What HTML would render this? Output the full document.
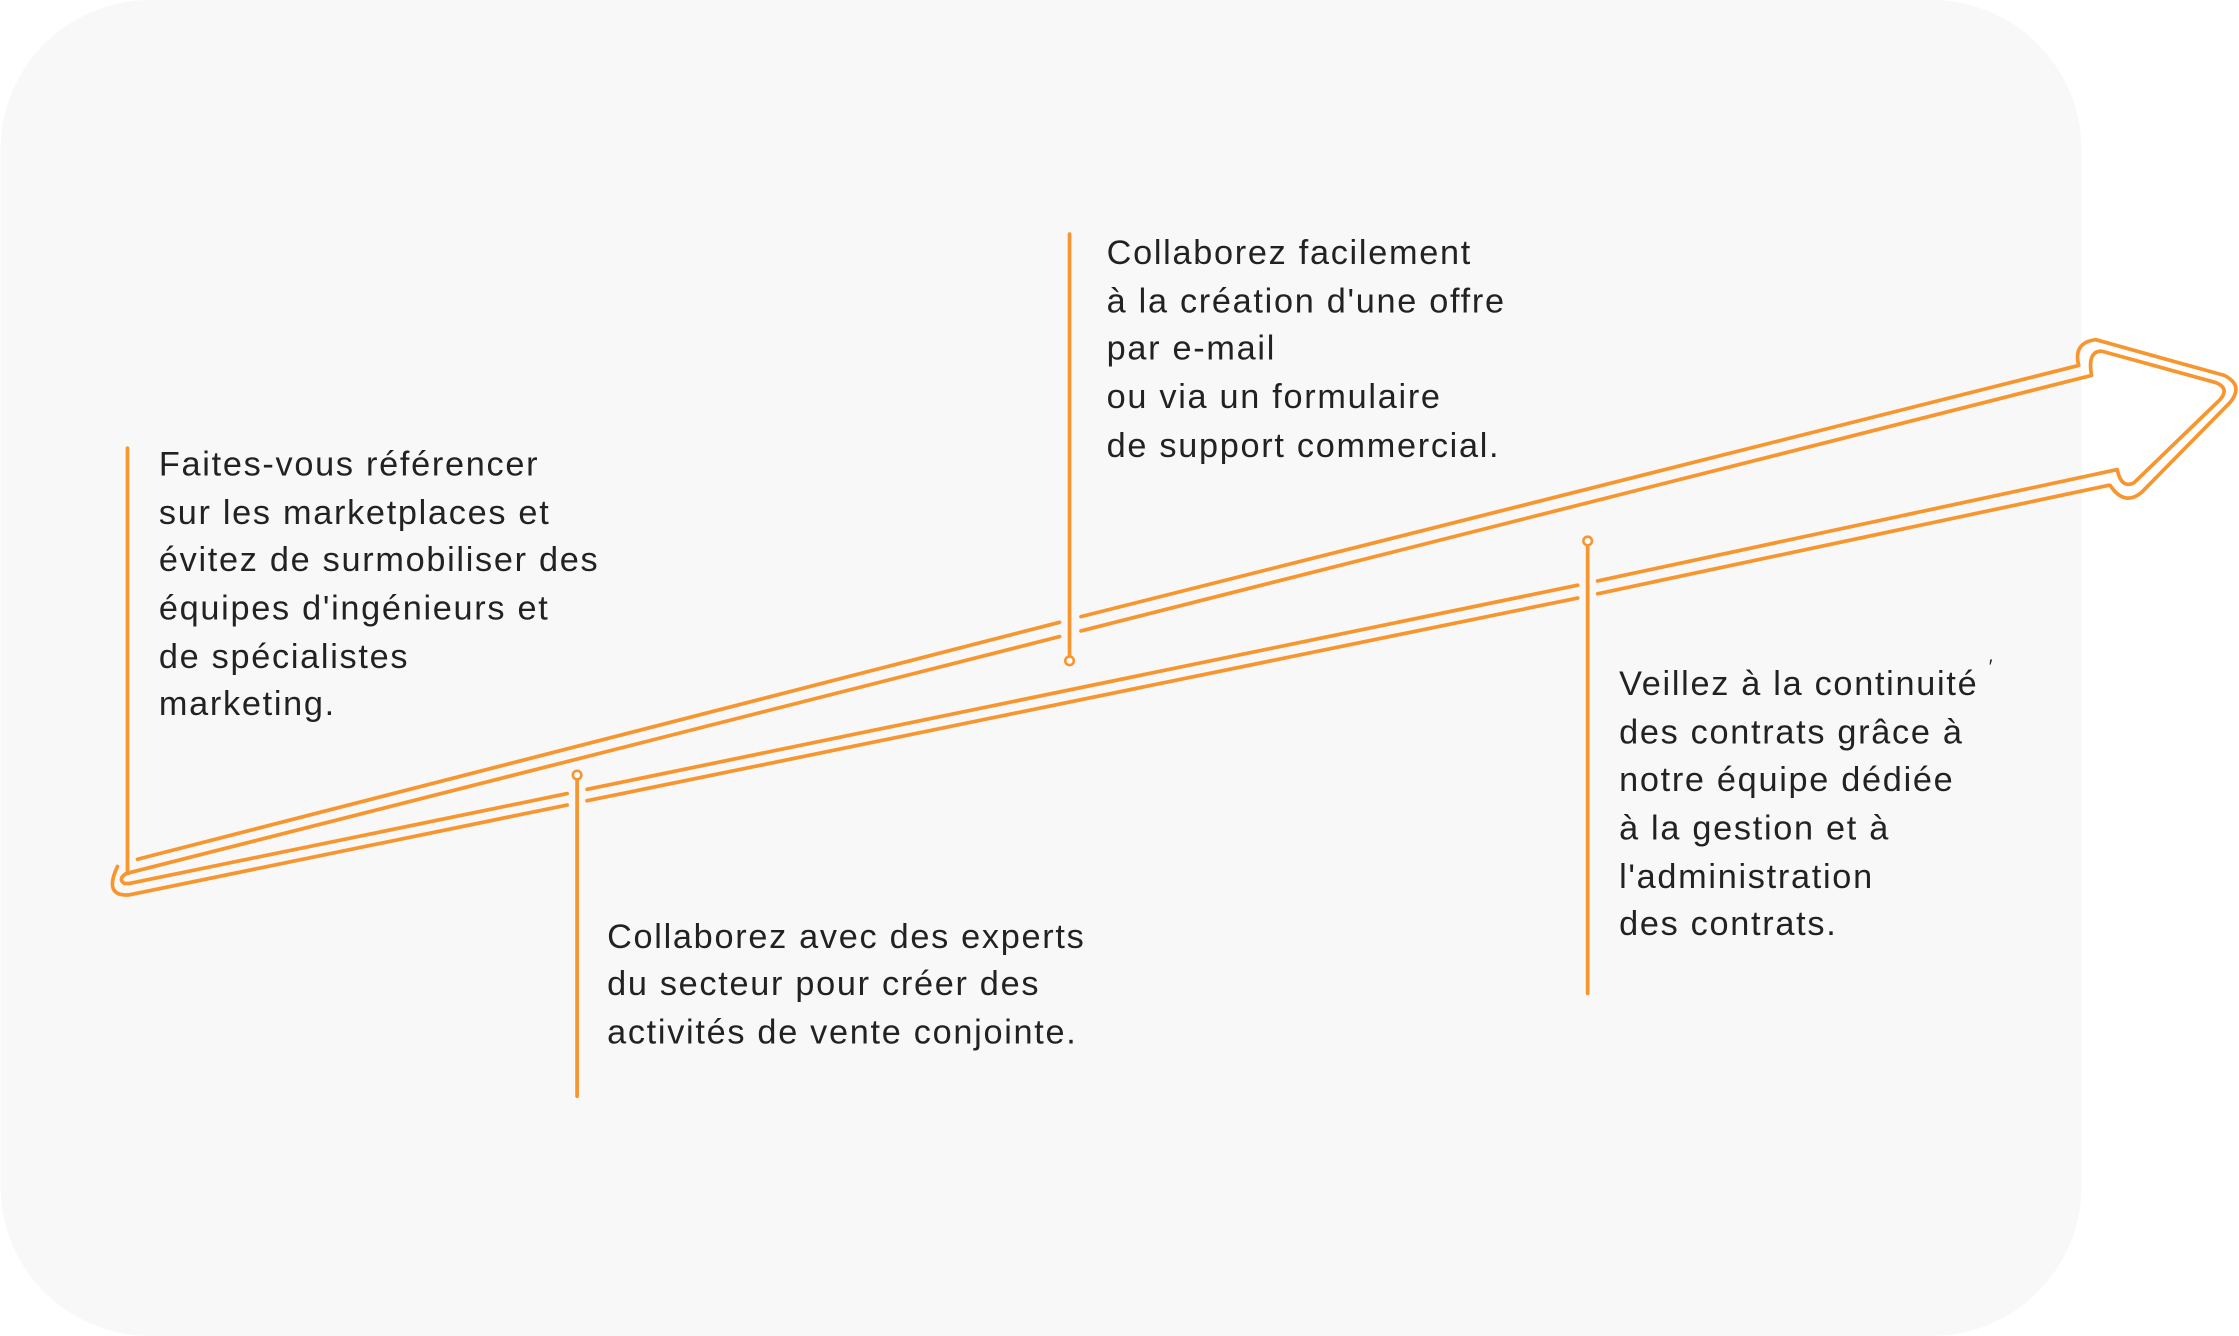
<!DOCTYPE html>
<html><head><meta charset="utf-8"><style>
html,body{margin:0;padding:0;background:#fff;}
svg{display:block;}
text{font-family:"Liberation Sans",sans-serif;font-size:24px;letter-spacing:1.2px;fill:#222;}
</style></head><body>
<svg width="2239" height="1336" viewBox="0 0 1568 936" xmlns="http://www.w3.org/2000/svg">
<rect x="0" y="0" width="1458" height="936" rx="105" fill="#f8f8f8"/>
<g fill="none" stroke="#f7962f" stroke-width="2.6" stroke-linecap="round" stroke-linejoin="round">
<path d="M96 602 L742 436 M757 432 L1456 256 Q1452 240 1468 238 L1558 263 Q1572 270 1562 282 L1500 345 Q1488 355 1478 340"/>
<path d="M742 446 L88 612 Q82 616 87 619 L90 619 L397 556 M411 553 L1105 410 M1119 407 L1483 329 Q1486 343 1495 338 L1555 280 Q1562 272 1552 268 L1472 246 Q1462 246 1465 263 L757 442"/>
<path d="M1477 340 L1119 416 M1105 419 L411 561 M397 564 L90 627 Q72 628 82 607"/>
<path d="M89 314 L89 612"/>
<path d="M749 164 L749 460"/>
<path d="M404 546 L404 768"/>
<path d="M1112 382 L1112 696"/>
</g>
<g fill="#fff" stroke="#f7962f" stroke-width="1.8">
<circle cx="749" cy="463" r="3"/>
<circle cx="404" cy="543" r="3"/>
<circle cx="1112" cy="379" r="3"/>
</g>
<text x="111" y="333">Faites-vous référencer</text>
<text x="111" y="367">sur les marketplaces et</text>
<text x="111" y="400">évitez de surmobiliser des</text>
<text x="111" y="434">équipes d'ingénieurs et</text>
<text x="111" y="468">de spécialistes</text>
<text x="111" y="501">marketing.</text>

<text x="775" y="185">Collaborez facilement</text>
<text x="775" y="219">à la création d'une offre</text>
<text x="775" y="252">par e-mail</text>
<text x="775" y="286">ou via un formulaire</text>
<text x="775" y="320">de support commercial.</text>

<text x="425" y="664">Collaborez avec des experts</text>
<text x="425" y="697">du secteur pour créer des</text>
<text x="425" y="731">activités de vente conjointe.</text>

<text x="1134" y="487">Veillez à la continuité</text>
<text x="1134" y="521">des contrats grâce à</text>
<text x="1134" y="554">notre équipe dédiée</text>
<text x="1134" y="588">à la gestion et à</text>
<text x="1134" y="622">l'administration</text>
<text x="1134" y="655">des contrats.</text>
<text x="1393" y="472" style="font-size:14px">′</text>
</svg>
</body></html>
